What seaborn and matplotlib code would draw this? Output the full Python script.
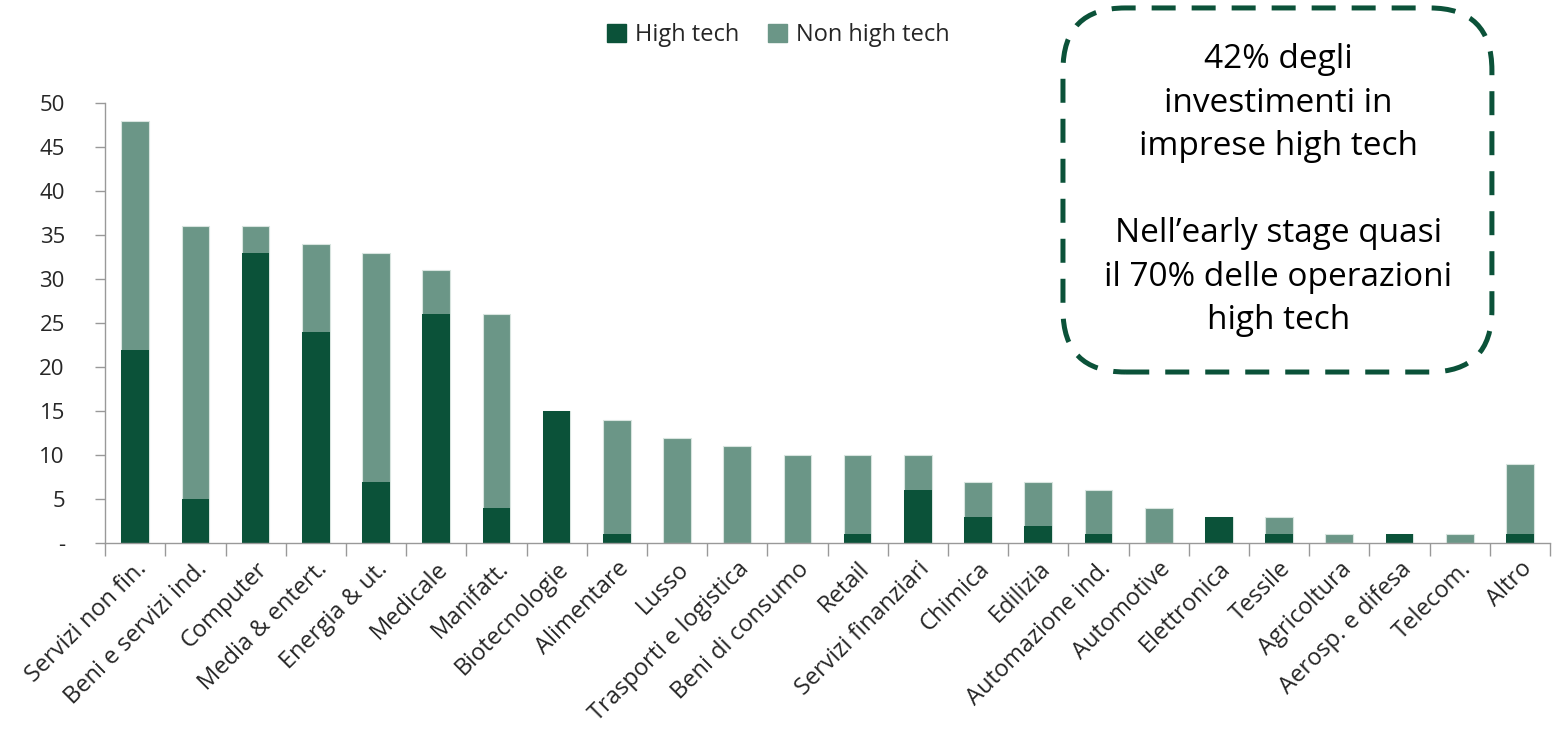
import pandas as pd
import matplotlib.pyplot as plt
import seaborn as sns
from matplotlib.patches import FancyBboxPatch, Patch
from matplotlib.ticker import FixedLocator, NullFormatter

sectors = ['Servizi non fin.', 'Beni e servizi ind.', 'Computer', 'Media & entert.',
           'Energia & ut.', 'Medicale', 'Manifatt.', 'Biotecnologie', 'Alimentare',
           'Lusso', 'Trasporti e logistica', 'Beni di consumo', 'Retail',
           'Servizi finanziari', 'Chimica', 'Edilizia', 'Automazione ind.',
           'Automotive', 'Elettronica', 'Tessile', 'Agricoltura', 'Aerosp. e difesa',
           'Telecom.', 'Altro']
high_tech = [22, 5, 33, 24, 7, 26, 4, 15, 1, 0, 0, 0, 1, 6, 3, 2, 1, 0, 3, 1, 0, 1, 0, 1]
non_high_tech = [26, 31, 3, 10, 26, 5, 22, 0, 13, 12, 11, 10, 9, 4, 4, 5, 5, 4, 0, 2, 1, 0, 1, 8]

dark = '#0b5239'
light = '#6b9687'

data = pd.DataFrame({'Settore': sectors, 'High tech': high_tech, 'Non high tech': non_high_tech})
data['Totale'] = data['High tech'] + data['Non high tech']

sns.set_style('white')
plt.rcParams['font.family'] = ['Open Sans', 'DejaVu Sans']

fig = plt.figure(figsize=(15.57, 7.43), dpi=100)
ax = fig.add_axes([0.0675, 0.269, 0.928, 0.592])

sns.barplot(x='Settore', y='Totale', data=data, color=light, width=0.46,
            saturation=1, edgecolor='#d8e4df', linewidth=0.8, ax=ax)
sns.barplot(x='Settore', y='High tech', data=data, color=dark, width=0.46,
            saturation=1, linewidth=0, ax=ax)

ax.set_ylim(0, 50)
ax.set_xlim(-0.5, len(sectors) - 0.5)
ax.set_yticks(range(0, 51, 5))
ax.set_yticklabels(['-'] + [str(v) for v in range(5, 51, 5)], fontsize=16)
ax.set_xlabel('')
ax.set_ylabel('')

# major ticks on the category boundaries, labels on minor ticks at the centres
n = len(sectors)
ax.xaxis.set_major_locator(FixedLocator([i - 0.5 for i in range(n + 1)]))
ax.xaxis.set_major_formatter(NullFormatter())
ax.set_xticks(range(n), minor=True)
ax.set_xticklabels(sectors, minor=True, rotation=45, ha='right',
                   rotation_mode='anchor', fontsize=17)
ax.tick_params(axis='x', which='major', bottom=True, length=9, color='#999999', width=1)
ax.tick_params(axis='x', which='minor', bottom=True, length=0, pad=10)
ax.tick_params(axis='y', left=True, length=7, color='#999999', width=1, pad=22)

for s in ['top', 'right']:
    ax.spines[s].set_visible(False)
for s in ['left', 'bottom']:
    ax.spines[s].set_color('#999999')
    ax.spines[s].set_linewidth(1)

handles = [Patch(color=dark, label='High tech'), Patch(color=light, label='Non high tech')]
fig.legend(handles=handles, loc='center', bbox_to_anchor=(0.5, 0.953), ncol=2,
           frameon=False, fontsize=17, handlelength=0.8, handleheight=0.8,
           handletextpad=0.4, columnspacing=1.2)

box = FancyBboxPatch((0.6827, 0.4993), 0.2755, 0.49, transform=fig.transFigure,
                     boxstyle='round,pad=0,rounding_size=0.04', fill=False,
                     edgecolor=dark, linewidth=3.6, linestyle=(0, (4.8, 3.2)),
                     mutation_aspect=1557 / 743)
fig.patches.append(box)
fig.text(0.821, 0.744,
         '42% degli\ninvestimenti in\nimprese high tech\n\nNell\u2019early stage quasi\nil 70% delle operazioni\nhigh tech',
         ha='center', va='center', fontsize=24, linespacing=1.42, color='black')

fig.savefig('out.png', dpi=100)
